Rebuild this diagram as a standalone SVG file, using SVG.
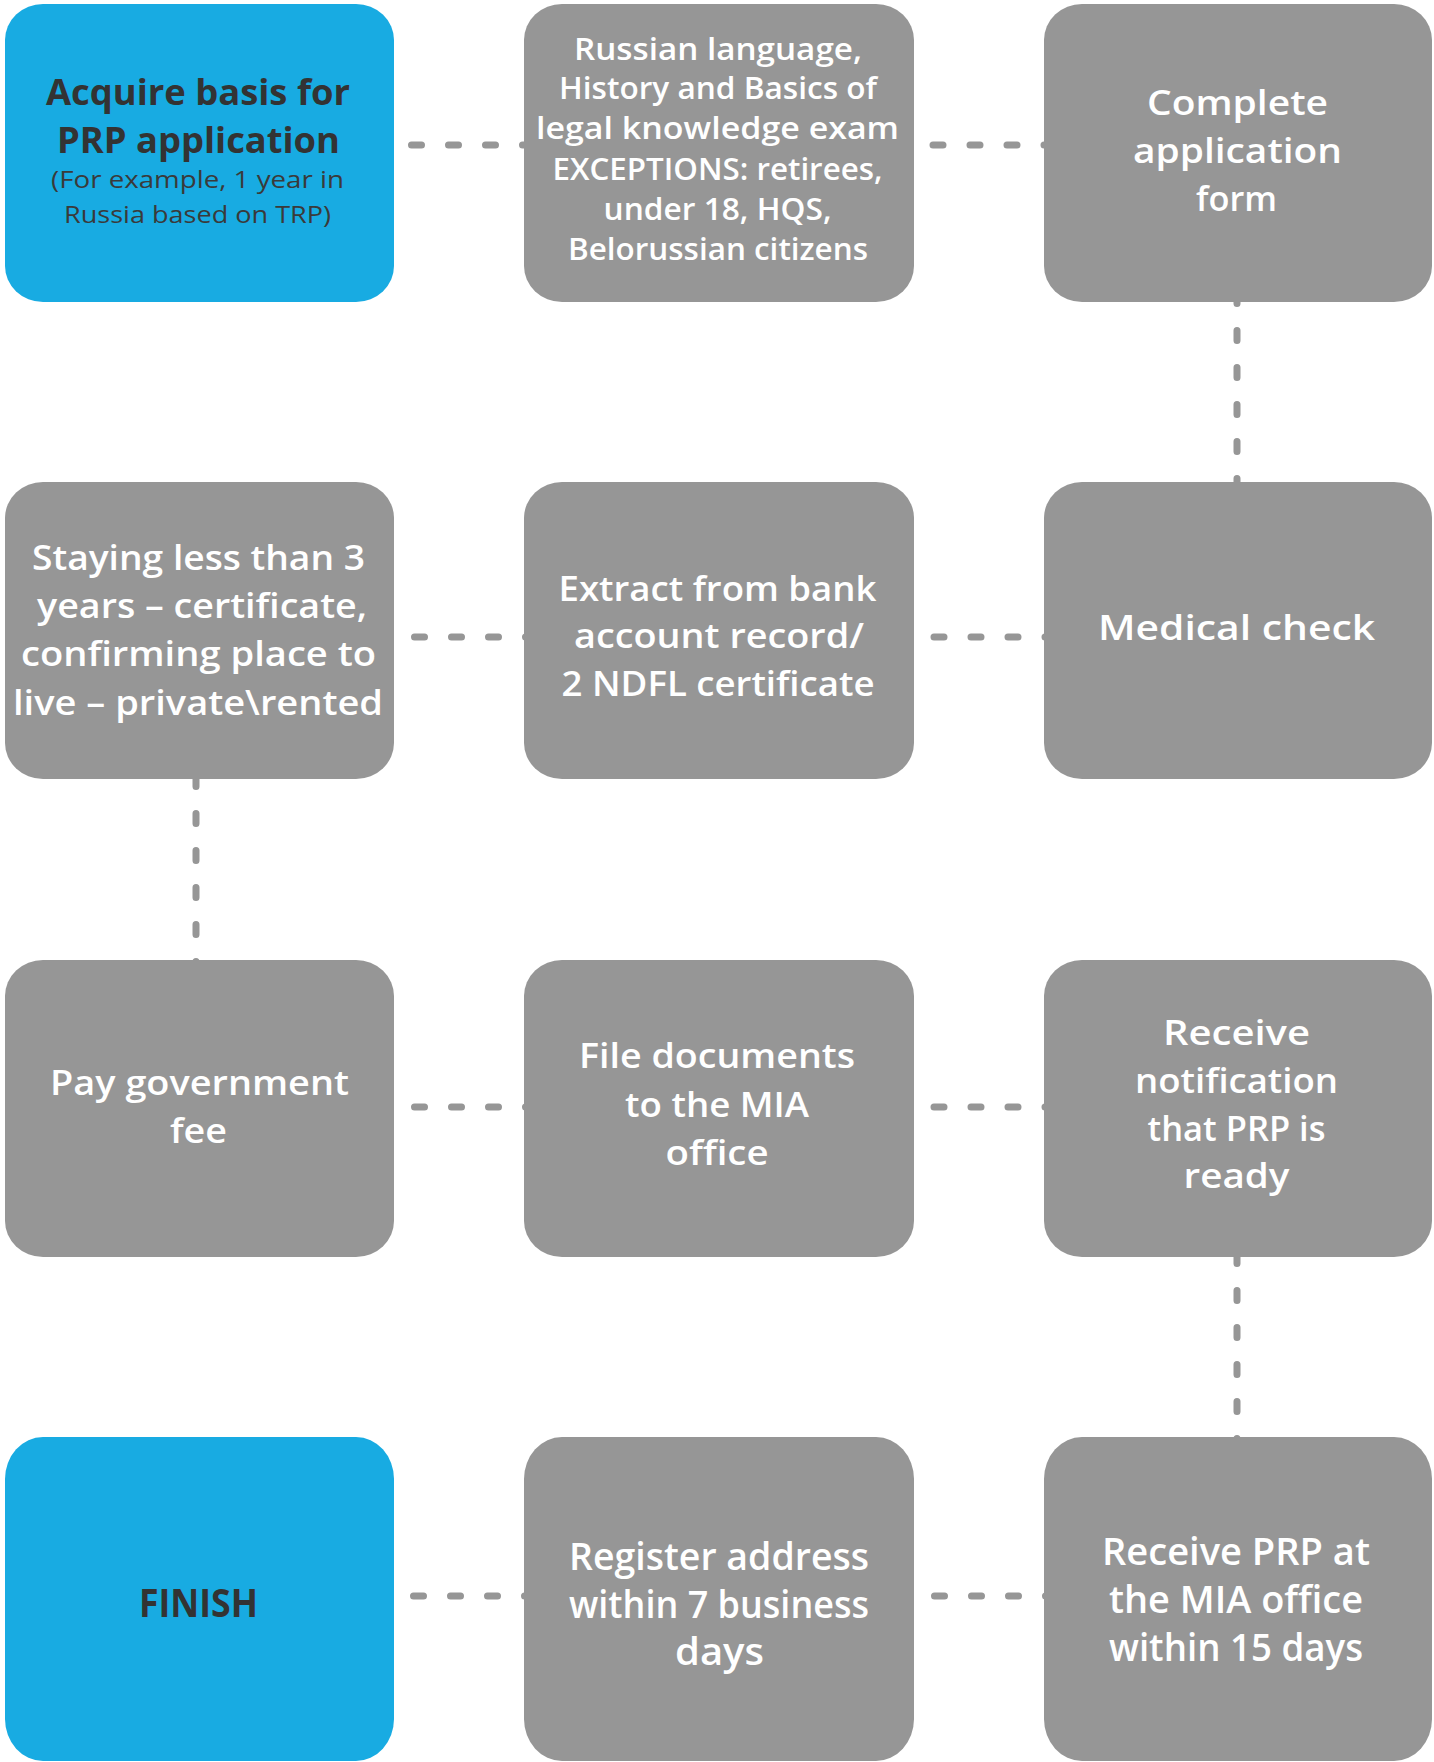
<svg xmlns="http://www.w3.org/2000/svg" width="1434" height="1762" viewBox="0 0 1434 1762">
<style>
.bg{fill:#ffffff}
.blue{fill:#18abe2}
.gray{fill:#969696}
.con{stroke:#969696;stroke-width:7;stroke-dasharray:10 27;stroke-linecap:round;fill:none}
text{font-family:"Open Sans","Liberation Sans",sans-serif;text-anchor:middle}
.w{fill:#ffffff;font-weight:600;font-size:35px}
.w2{fill:#ffffff;font-weight:600;font-size:30px}
.w4{fill:#ffffff;font-weight:600;font-size:38px}
.d{fill:#333333;font-weight:700;font-size:35px}
.ds{fill:#3a3a3a;font-weight:400;font-size:24px}
.df{fill:#333333;font-weight:700;font-size:40px}
</style>
<rect class="bg" x="0" y="0" width="1434" height="1762"/>
<g id="connectors">
<line class="con" x1="411.5" y1="145" x2="530" y2="145"/>
<line class="con" x1="933" y1="145" x2="1050" y2="145"/>
<line class="con" x1="1237" y1="293.5" x2="1237" y2="490"/>
<line class="con" x1="414.5" y1="637" x2="530" y2="637"/>
<line class="con" x1="934" y1="637" x2="1050" y2="637"/>
<line class="con" x1="196" y1="776.5" x2="196" y2="968"/>
<line class="con" x1="414.5" y1="1107" x2="530" y2="1107"/>
<line class="con" x1="934" y1="1107" x2="1050" y2="1107"/>
<line class="con" x1="1237" y1="1253.5" x2="1237" y2="1445"/>
<line class="con" x1="413.5" y1="1596" x2="530" y2="1596"/>
<line class="con" x1="934.5" y1="1596" x2="1050" y2="1596"/>
</g>
<g id="n1">
<rect class="blue" x="5" y="4" width="389" height="298" rx="38" ry="36"/>
<text class="d" x="198" y="105" textLength="304" lengthAdjust="spacingAndGlyphs">Acquire basis for</text>
<text class="d" x="198.5" y="153" textLength="283" lengthAdjust="spacingAndGlyphs">PRP application</text>
<text class="ds" x="197.5" y="188" textLength="293" lengthAdjust="spacingAndGlyphs">(For example, 1 year in</text>
<text class="ds" x="197.5" y="223" textLength="267" lengthAdjust="spacingAndGlyphs">Russia based on TRP)</text>
</g>
<g id="n2">
<rect class="gray" x="524" y="4" width="390" height="298" rx="38" ry="36"/>
<text class="w2" x="718" y="60" textLength="288" lengthAdjust="spacingAndGlyphs">Russian language,</text>
<text class="w2" x="718" y="99" textLength="318" lengthAdjust="spacingAndGlyphs">History and Basics of</text>
<text class="w2" x="717.5" y="139" textLength="363" lengthAdjust="spacingAndGlyphs">legal knowledge exam</text>
<text class="w2" x="717.5" y="180" textLength="330" lengthAdjust="spacingAndGlyphs">EXCEPTIONS: retirees,</text>
<text class="w2" x="717.5" y="220" textLength="228" lengthAdjust="spacingAndGlyphs">under 18, HQS,</text>
<text class="w2" x="718" y="260" textLength="300" lengthAdjust="spacingAndGlyphs">Belorussian citizens</text>
</g>
<g id="n3">
<rect class="gray" x="1044" y="4" width="388" height="298" rx="38" ry="36"/>
<text class="w" x="1237.5" y="115" textLength="181" lengthAdjust="spacingAndGlyphs">Complete</text>
<text class="w" x="1237.5" y="163" textLength="209" lengthAdjust="spacingAndGlyphs">application</text>
<text class="w" x="1236.5" y="211" textLength="81" lengthAdjust="spacingAndGlyphs">form</text>
</g>
<g id="n4">
<rect class="gray" x="5" y="482" width="389" height="297" rx="38" ry="36"/>
<text class="w" x="198.5" y="570" textLength="333" lengthAdjust="spacingAndGlyphs">Staying less than 3</text>
<text class="w" x="202" y="618" textLength="330" lengthAdjust="spacingAndGlyphs">years – certificate,</text>
<text class="w" x="198.5" y="666" textLength="355" lengthAdjust="spacingAndGlyphs">confirming place to</text>
<text class="w" x="198" y="715" textLength="370" lengthAdjust="spacingAndGlyphs">live – private\rented</text>
</g>
<g id="n5">
<rect class="gray" x="524" y="482" width="390" height="297" rx="38" ry="36"/>
<text class="w" x="717.5" y="601" textLength="318" lengthAdjust="spacingAndGlyphs">Extract from bank</text>
<text class="w" x="719" y="648" textLength="290" lengthAdjust="spacingAndGlyphs">account record/</text>
<text class="w" x="718" y="696" textLength="313" lengthAdjust="spacingAndGlyphs">2 NDFL certificate</text>
</g>
<g id="n6">
<rect class="gray" x="1044" y="482" width="388" height="297" rx="38" ry="36"/>
<text class="w" x="1236.5" y="640" textLength="277" lengthAdjust="spacingAndGlyphs">Medical check</text>
</g>
<g id="n7">
<rect class="gray" x="5" y="960" width="389" height="297" rx="38" ry="36"/>
<text class="w" x="199.5" y="1095" textLength="299" lengthAdjust="spacingAndGlyphs">Pay government</text>
<text class="w" x="198.5" y="1143" textLength="57" lengthAdjust="spacingAndGlyphs">fee</text>
</g>
<g id="n8">
<rect class="gray" x="524" y="960" width="390" height="297" rx="38" ry="36"/>
<text class="w" x="717" y="1068" textLength="276" lengthAdjust="spacingAndGlyphs">File documents</text>
<text class="w" x="717" y="1117" textLength="184" lengthAdjust="spacingAndGlyphs">to the MIA</text>
<text class="w" x="717" y="1165" textLength="103" lengthAdjust="spacingAndGlyphs">office</text>
</g>
<g id="n9">
<rect class="gray" x="1044" y="960" width="388" height="297" rx="38" ry="36"/>
<text class="w" x="1236.5" y="1045" textLength="147" lengthAdjust="spacingAndGlyphs">Receive</text>
<text class="w" x="1236.5" y="1093" textLength="203" lengthAdjust="spacingAndGlyphs">notification</text>
<text class="w" x="1236.5" y="1141" textLength="178" lengthAdjust="spacingAndGlyphs">that PRP is</text>
<text class="w" x="1236.5" y="1188" textLength="106" lengthAdjust="spacingAndGlyphs">ready</text>
</g>
<g id="n10">
<rect class="blue" x="5" y="1437" width="389" height="324" rx="38" ry="42"/>
<text class="df" x="198.5" y="1617" textLength="119" lengthAdjust="spacingAndGlyphs">FINISH</text>
</g>
<g id="n11">
<rect class="gray" x="524" y="1437" width="390" height="324" rx="38" ry="42"/>
<text class="w4" x="719" y="1570" textLength="300" lengthAdjust="spacingAndGlyphs">Register address</text>
<text class="w4" x="719" y="1618" textLength="300" lengthAdjust="spacingAndGlyphs">within 7 business</text>
<text class="w4" x="719.5" y="1665" textLength="89" lengthAdjust="spacingAndGlyphs">days</text>
</g>
<g id="n12">
<rect class="gray" x="1044" y="1437" width="388" height="324" rx="38" ry="42"/>
<text class="w4" x="1236" y="1565" textLength="268" lengthAdjust="spacingAndGlyphs">Receive PRP at</text>
<text class="w4" x="1236" y="1613" textLength="254" lengthAdjust="spacingAndGlyphs">the MIA office</text>
<text class="w4" x="1236" y="1661" textLength="254" lengthAdjust="spacingAndGlyphs">within 15 days</text>
</g>
</svg>
